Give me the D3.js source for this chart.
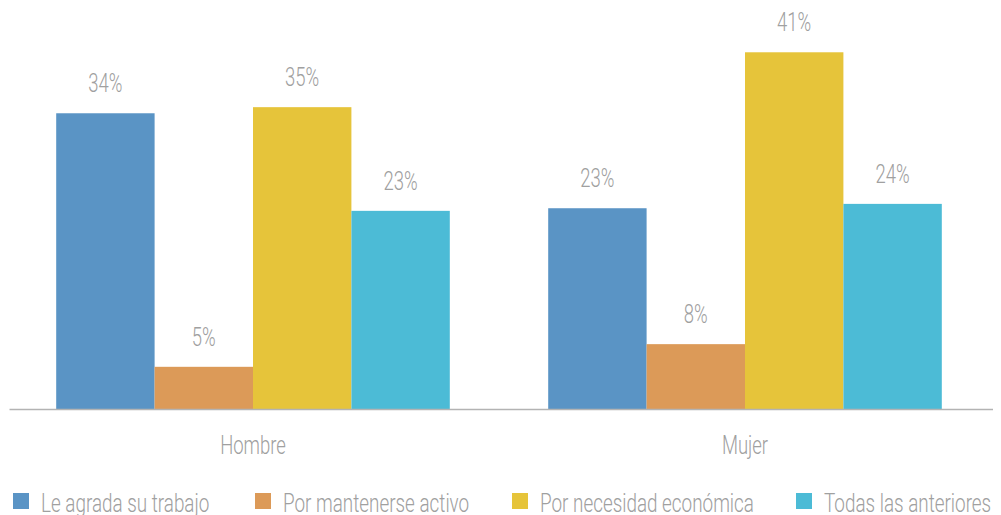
<!DOCTYPE html>
<html>
<head>
<meta charset="utf-8">
<script src="https://cdn.jsdelivr.net/npm/d3@7"></script>
<style>
  html, body { margin: 0; padding: 0; background: #fff; overflow: hidden; }
  svg { display: block; }
  text { font-family: "Roboto", "Liberation Sans", sans-serif; font-weight: 300; fill: #a0a0a0; }
</style>
</head>
<body>
<svg id="chart" width="1001" height="515"></svg>
<script>
const categories = ["Hombre", "Mujer"];
const seriesNames = ["Le agrada su trabajo", "Por mantenerse activo", "Por necesidad económica", "Todas las anteriores"];
const leAgrada = [34.0, 23.1];
const mantenerse = [4.9, 7.5];
const necesidad = [34.7, 41.0];
const todas = [22.8, 23.6];
const colors = ["#5a94c5", "#dc9a58", "#e6c43a", "#4cbbd6"];

const seriesValues = [leAgrada, mantenerse, necesidad, todas];

const svg = d3.select("#chart");
const baseY = 409.5;
const SX = 0.74;   // horizontal condensing of the text
const SXL = 0.755;

const x0 = d3.scaleBand().domain(categories).range([7, 991]).paddingInner(0.2).paddingOuter(0.1);
const x1 = d3.scaleBand().domain(seriesNames).range([0, x0.bandwidth()]).padding(0);
const y = d3.scaleLinear().domain([0, 47]).range([baseY, 0]);

const data = categories.map((c, ci) => ({
  cat: c,
  vals: seriesNames.map((s, si) => ({ series: s, si, value: seriesValues[si][ci] }))
}));

const groups = svg.selectAll("g.grp").data(data).join("g")
  .attr("class", "grp")
  .attr("transform", d => `translate(${x0(d.cat)},0)`);

groups.selectAll("rect").data(d => d.vals).join("rect")
  .attr("x", d => x1(d.series))
  .attr("width", x1.bandwidth())
  .attr("y", d => y(d.value))
  .attr("height", d => baseY - y(d.value))
  .attr("fill", d => colors[d.si]);

groups.selectAll("text.val").data(d => d.vals).join("text")
  .attr("class", "val")
  .attr("transform", d => `translate(${x1(d.series) + x1.bandwidth() / 2},${y(d.value) - 21}) scale(${SX},1)`)
  .attr("text-anchor", "middle")
  .style("font-size", "25px")
  .text(d => Math.round(d.value) + "%");

// axis
const axis = d3.axisBottom(x0).tickSize(0).tickSizeOuter(0).tickPadding(0);
const ax = svg.append("g").attr("transform", `translate(0,${baseY})`).call(axis);
ax.select(".domain").attr("stroke", "#b3b3b3").attr("stroke-width", 1.5)
  .attr("d", `M9.5,0H993`);
ax.selectAll(".tick text")
  .attr("fill", "#a0a0a0")
  .attr("dy", null)
  .attr("y", null)
  .attr("transform", `translate(0,44) scale(${SX},1)`)
  .style("font-size", "25px")
  .style("font-family", '"Roboto", sans-serif')
  .style("font-weight", 300);

// legend
const legendX = [13, 255, 512, 796];
const leg = svg.selectAll("g.leg").data(seriesNames).join("g")
  .attr("class", "leg")
  .attr("transform", (d, i) => `translate(${legendX[i]},493)`);
leg.append("rect").attr("width", 16).attr("height", 16).attr("fill", (d, i) => colors[i]);
leg.append("text")
  .attr("transform", `translate(28,18.7) scale(${SXL},1)`)
  .style("font-size", "25px")
  .text(d => d);
</script>
</body>
</html>
